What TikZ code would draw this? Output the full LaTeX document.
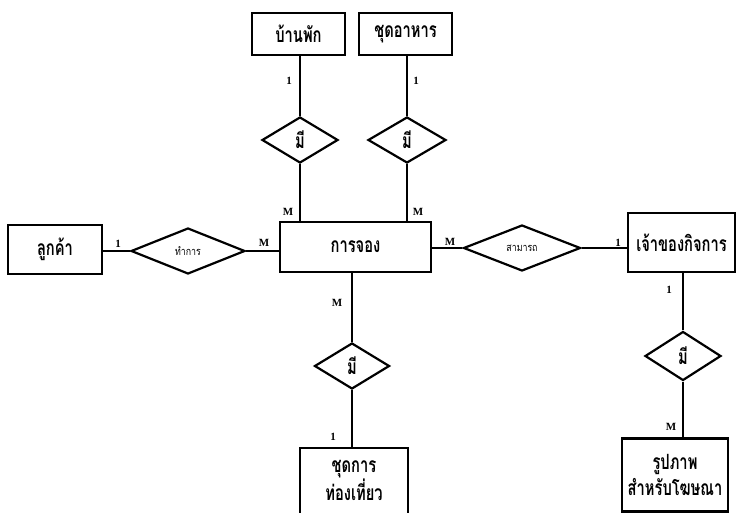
\documentclass[tikz,border=0pt]{standalone}
\usepackage{fontspec}
\setmainfont{Liberation Serif}
\newfontfamily\thai[Script=Thai, FakeStretch=0.7]{Loma}
\newfontfamily\thaismall[Script=Thai, FakeStretch=0.8]{Loma}
\usetikzlibrary{shapes.geometric}
\tikzset{
  entity/.style={draw, line width=2.4pt, inner sep=0pt, align=center,
    font=\thai\bfseries\fontsize{21}{26}\selectfont},
  etext/.style={inner sep=0pt, align=center, font=\thai\bfseries\fontsize{21}{28}\selectfont},
  rel/.style={draw, diamond, line width=2.2pt, inner sep=0pt},
  mi/.style={font=\thai\bfseries\fontsize{21}{22}\selectfont},
  small/.style={font=\thaismall\fontsize{11}{12}\selectfont},
  conn/.style={line width=1.8pt},
  card/.style={font=\bfseries\fontsize{11}{12}\selectfont, inner sep=0pt},
}
\begin{document}
\begin{tikzpicture}[x=1pt,y=-1pt]
\useasboundingbox (0,0) rectangle (737,513);
% entities
\node[entity, minimum width=93pt, minimum height=42pt] (banpak) at (298.5,34) {บ้านพัก};
\node[entity, minimum width=93pt, minimum height=42pt] (chut) at (405.5,34) {ชุดอาหาร};
\node[entity, minimum width=151pt, minimum height=50pt] (jong) at (355.5,247) {การจอง};
\node[entity, minimum width=94pt, minimum height=49pt] (luk) at (55,249.5) {ลูกค้า};
\node[entity, minimum width=107pt, minimum height=59pt] (owner) at (681.5,242.5) {เจ้าของกิจการ};
\node[entity, minimum width=106pt, minimum height=73pt] (pic) at (675,475) {รูปภาพ\\สำหรับโฆษณา};
\node[entity, minimum width=108pt, minimum height=72pt] (tour) at (354,484) {};
\node[etext] (tourtext) at (354,480) {ชุดการ\\ท่องเที่ยว};
% relationships
\node[rel, mi, minimum width=76pt, minimum height=46pt] (mi1) at (300,140) {มี};
\node[rel, mi, minimum width=78pt, minimum height=46pt] (mi2) at (407,140) {มี};
\node[rel, small, minimum width=114pt, minimum height=46pt] (tham) at (188,251) {ทำการ};
\node[rel, small, minimum width=117pt, minimum height=46pt] (samart) at (522,248) {สามารถ};
\node[rel, mi, minimum width=76pt, minimum height=49pt] (mi3) at (683,356) {มี};
\node[rel, mi, minimum width=75pt, minimum height=46pt] (mi4) at (352,366) {มี};
% connectors
\draw[conn] (mi1.north) -- (mi1.north |- banpak.south);
\draw[conn] (mi1.south) -- (mi1.south |- jong.north);
\draw[conn] (mi2.north) -- (mi2.north |- chut.south);
\draw[conn] (mi2.south) -- (mi2.south |- jong.north);
\draw[conn] (tham.west) -- (tham.west -| luk.east);
\draw[conn] (tham.east) -- (tham.east -| jong.west);
\draw[conn] (samart.west) -- (samart.west -| jong.east);
\draw[conn] (samart.east) -- (samart.east -| owner.west);
\draw[conn] (mi3.north) -- (mi3.north |- owner.south);
\draw[conn] (mi3.south) -- (mi3.south |- pic.north);
\draw[conn] (mi4.north) -- (mi4.north |- jong.south);
\draw[conn] (mi4.south) -- (mi4.south |- tour.north);
% cardinalities
\node[card] (c1) at (289,81) {1};
\node[card] (c2) at (416,81) {1};
\node[card] (c3) at (288,212) {M};
\node[card] (c4) at (418,212) {M};
\node[card] (c5) at (118,244) {1};
\node[card] (c6) at (264,243) {M};
\node[card] (c7) at (450,242) {M};
\node[card] (c8) at (618,243) {1};
\node[card] (c9) at (669,290) {1};
\node[card] (c10) at (671,427) {M};
\node[card] (c11) at (337,303) {M};
\node[card] (c12) at (333,437) {1};
\end{tikzpicture}
\end{document}
